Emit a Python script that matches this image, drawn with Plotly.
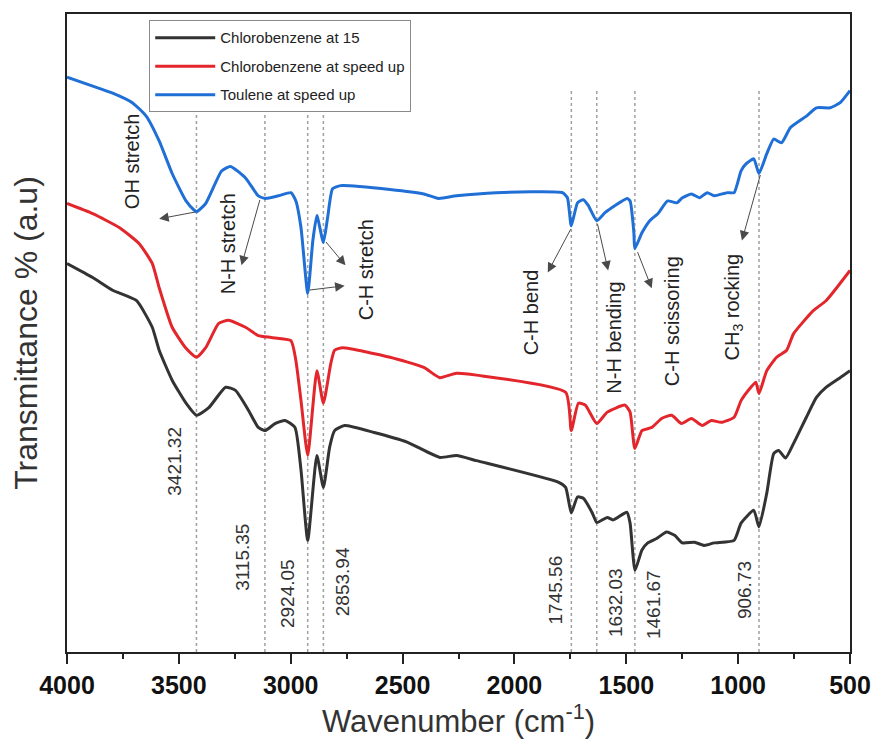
import plotly.graph_objects as go

# FTIR spectra (wavenumber in cm-1, transmittance in arbitrary units, curves offset)
wn_black = [4000, 3885, 3796, 3690, 3619, 3588, 3530, 3468, 3421, 3366, 3291, 3247, 3189, 3145,
            3115, 3070, 3025, 2981, 2954, 2924, 2883, 2854, 2826, 2804, 2759, 2627, 2480, 2334,
            2259, 2170, 1802, 1771, 1746, 1718, 1692, 1652, 1632, 1585, 1559, 1497, 1483, 1461,
            1430, 1404, 1364, 1320, 1284, 1249, 1195, 1151, 1107, 1018, 987, 930, 907, 872, 841,
            819, 788, 752, 695, 650, 606, 544, 500]
t_black = [60.9, 58.7, 56.7, 55.1, 50.9, 47.3, 42.6, 39.0, 37.1, 38.3, 41.5, 41.0, 37.9, 35.2,
           34.7, 35.8, 36.3, 35.2, 28.5, 17.5, 30.8, 25.8, 32.1, 34.7, 35.5, 34.4, 32.9, 30.5,
           30.8, 30.0, 26.6, 25.8, 21.8, 24.3, 24.1, 21.8, 20.3, 21.1, 20.7, 21.9, 20.2, 12.8,
           16.0, 17.1, 17.8, 18.8, 18.3, 17.1, 17.2, 16.7, 17.1, 17.5, 20.2, 22.2, 19.6, 24.9, 31.1,
           31.6, 30.4, 32.7, 36.8, 39.9, 41.5, 43.0, 44.1]

wn_red = [4000, 3885, 3765, 3677, 3619, 3588, 3530, 3468, 3421, 3380, 3322, 3278, 3202, 3145,
          3087, 2999, 2977, 2954, 2924, 2883, 2854, 2821, 2804, 2768, 2556, 2405, 2334, 2259,
          2170, 1771, 1746, 1714, 1683, 1632, 1585, 1506, 1483, 1462, 1430, 1386, 1342, 1297,
          1253, 1209, 1160, 1120, 1076, 1018, 987, 943, 921, 907, 872, 828, 783, 752, 664, 606, 500]
t_red = [70.3, 68.7, 66.5, 64.0, 60.9, 57.1, 50.9, 47.6, 46.2, 47.7, 51.5, 52.0, 50.9, 49.6,
         49.3, 48.8, 45.7, 39.4, 30.8, 44.1, 39.0, 45.2, 47.3, 47.7, 46.2, 44.6, 43.0, 43.7,
         43.4, 40.7, 34.7, 39.0, 38.7, 35.8, 37.6, 38.7, 37.6, 31.9, 34.7, 35.2, 36.6, 37.1,
         35.8, 36.6, 35.5, 36.3, 36.0, 36.8, 39.4, 41.5, 42.3, 40.5, 44.1, 46.2, 47.3, 49.9, 53.5,
         55.1, 59.8]

wn_blue = [4000, 3885, 3796, 3708, 3646, 3588, 3530, 3468, 3433, 3421, 3380, 3309, 3269, 3202,
           3145, 3114, 3056, 2999, 2977, 2954, 2924, 2901, 2883, 2854, 2835, 2813, 2777, 2556,
           2405, 2339, 2259, 2082, 1785, 1763, 1746, 1718, 1692, 1670, 1632, 1594, 1550, 1497,
           1483, 1466, 1462, 1430, 1395, 1359, 1315, 1275, 1249, 1209, 1173, 1138, 1107, 1049,
           1018, 987, 965, 930, 907, 872, 841, 806, 766, 695, 650, 588, 544, 500]
t_blue = [90.1, 88.7, 87.6, 86.1, 84.0, 80.1, 75.0, 70.7, 69.3, 69.0, 70.3, 75.4, 76.1, 74.3,
          71.5, 71.1, 71.5, 72.0, 70.7, 66.5, 56.2, 64.5, 68.4, 64.2, 68.1, 72.6, 73.1, 72.5,
          71.8, 71.1, 71.5, 72.0, 72.0, 71.2, 66.8, 70.4, 70.9, 70.0, 67.6, 68.9, 70.0, 71.1,
          70.7, 65.7, 63.2, 65.7, 67.6, 68.7, 70.7, 70.4, 71.2, 71.8, 71.2, 72.0, 71.5, 72.0,
          72.0, 75.4, 76.5, 77.3, 75.0, 78.1, 80.4, 79.8, 82.2, 84.0, 85.3, 85.3, 86.1, 88.0]

series_names = ["Chlorobenzene at 15", "Chlorobenzene at speed up", "Toulene at speed up"]
series_colors = ["#333333", "#e3262b", "#1f6fd6"]

# marked peak positions
peak_wn = [3421.32, 3115.35, 2924.05, 2853.94, 1745.56, 1632.03, 1461.67, 906.73]
peak_label_y = [29.9, 14.9, 9.2, 11.0, 9.7, 7.8, 7.5, 9.7]
peak_label_shift = [-22, -22, -20, 19, -16, 18, 18, -15]
peak_line_top = 88.3

# band assignments: label centre, arrow head and arrow tail (on the curve)
band_text = ["OH stretch", "N-H stretch", "C-H stretch", "C-H bend", "N-H bending",
             "C-H scissoring", "CH<sub>3</sub> rocking"]
band_text_pos = [(3712, 77.0), (3282, 64.0), (2666, 59.9), (1927, 53.2), (1554, 49.3),
                 (1297, 51.8), (1023, 54.0)]
arrow_head = [(3588, 67.9), (3220, 60.6), (2759, 57.4), (2755, 60.6), (1851, 59.5),
              (1581, 59.8), (1386, 57.0), (983, 64.5)]
arrow_tail = [(3421, 69.0), (3136, 71.1), (2923, 56.7), (2848, 64.5), (1745, 66.5),
              (1630, 67.3), (1452, 62.9), (899, 75.0)]

FONT = "Arial, Liberation Sans, sans-serif"

fig = go.Figure()

for wn, t, name, color in zip([wn_black, wn_red, wn_blue], [t_black, t_red, t_blue],
                              series_names, series_colors):
    fig.add_trace(go.Scatter(x=wn, y=t, mode="lines", name=name, legendgroup=name,
                             line=dict(color=color, width=3, shape="spline", smoothing=0.5)))

shapes = []
for w in peak_wn:
    shapes.append(dict(type="line", xref="x", yref="y", x0=w, x1=w, y0=0, y1=peak_line_top,
                       line=dict(color="#a0a0a0", width=1.5, dash="dot"), layer="below"))

annotations = []
for w, y, dx in zip(peak_wn, peak_label_y, peak_label_shift):
    annotations.append(dict(x=w, y=y, xref="x", yref="y", text=f"{w:.2f}", showarrow=False,
                            textangle=-90, xshift=dx, font=dict(family=FONT, size=19, color="#333333")))

for txt, (w, y) in zip(band_text, band_text_pos):
    annotations.append(dict(x=w, y=y, xref="x", yref="y", text=txt, showarrow=False,
                            textangle=-90, font=dict(family=FONT, size=20, color="#222222")))

for (hx, hy), (tx, ty) in zip(arrow_head, arrow_tail):
    annotations.append(dict(x=hx, y=hy, xref="x", yref="y", ax=tx, ay=ty, axref="x", ayref="y",
                            text="", showarrow=True, arrowhead=2, arrowsize=1.9, arrowwidth=1,
                            arrowcolor="#4a4a4a"))

fig.update_layout(
    width=883, height=754,
    margin=dict(l=67, r=25, t=13, b=102),
    paper_bgcolor="white", plot_bgcolor="white",
    font=dict(family=FONT, color="#222222"),
    showlegend=True,
    legend=dict(x=0.105, y=0.99, xanchor="left", yanchor="top",
                bgcolor="white", bordercolor="#8a8a8a", borderwidth=1,
                traceorder="grouped", tracegroupgap=6,
                font=dict(family=FONT, size=15, color="#222222"), itemwidth=60),
    shapes=shapes,
    annotations=annotations,
)

fig.update_xaxes(range=[4000, 500], tickmode="array", tickvals=[4000, 3500, 3000, 2500, 2000, 1500, 1000, 500],
                 ticks="outside", ticklen=10, tickwidth=2, tickcolor="#222222",
                 minor=dict(ticks="outside", ticklen=5, tickwidth=2, tickcolor="#222222", dtick=250, tick0=500),
                 showline=True, linecolor="#222222", linewidth=2, mirror=True, showgrid=False, zeroline=False,
                 tickfont=dict(family=FONT, size=25, color="#111111", weight="bold"),
                 title=dict(text="Wavenumber (cm<sup>-1</sup>)", font=dict(family=FONT, size=31, color="#333333"),
                            standoff=12))
fig.update_yaxes(range=[0, 100], showticklabels=False, ticks="", showgrid=False, zeroline=False,
                 showline=True, linecolor="#222222", linewidth=2, mirror=True,
                 title=dict(text="Transmittance % (a.u)", font=dict(family=FONT, size=32, color="#333333"),
                            standoff=18))

fig.write_html("out.html")
